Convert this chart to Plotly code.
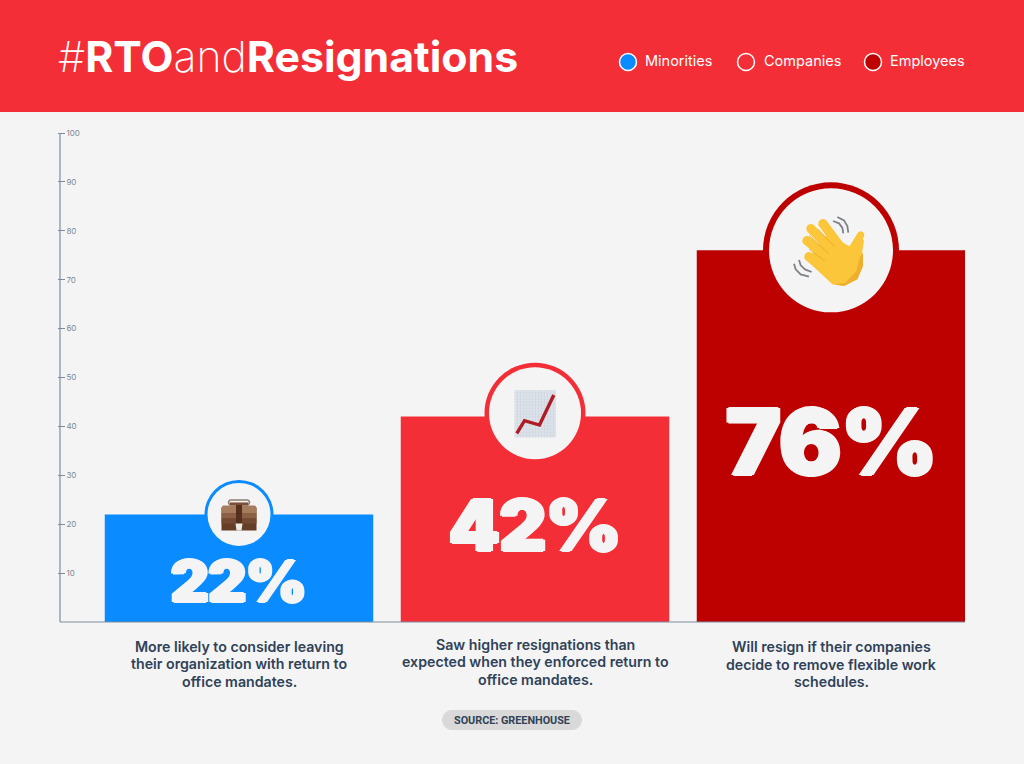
import math
import plotly.graph_objects as go

# data
categories = ["Minorities", "Companies", "Employees"]
values = [22, 42, 76]
captions = [
    ["More likely to consider leaving", "their organization with return to", "office mandates."],
    ["Saw higher resignations than", "expected when they enforced return to", "office mandates."],
    ["Will resign if their companies", "decide to remove flexible work", "schedules."],
]
y_ticks = [10, 20, 30, 40, 50, 60, 70, 80, 90, 100]

W, H = 1024, 764
BG = "#f4f4f5"
RED = "#f32e36"
BLUE = "#0a8bff"
DARK = "#bd0000"
INK = "#2f4257"
AXIS = "#7c8ca0"
colors = [BLUE, RED, DARK]

FONT = "Inter"


def fx(px):
    return px / W


def fy(px):
    return 1 - px / H


def poly(points, ox=0, oy=0, s=1.0):
    # y goes up in pixel sized shapes, the points here are written in screen order
    pts = [((x - ox) * s, -(y - oy) * s) for x, y in points]
    return "M" + " L".join(f"{x:.2f},{y:.2f}" for x, y in pts) + " Z"


def open_line(points, ox=0, oy=0, s=1.0):
    pts = [((x - ox) * s, -(y - oy) * s) for x, y in points]
    return "M" + " L".join(f"{x:.2f},{y:.2f}" for x, y in pts)


def capsule(x0, y0, x1, y1, r):
    # rounded finger / handle shape
    a = math.atan2(y1 - y0, x1 - x0)
    pts = []
    for k in range(13):
        t = a + math.pi / 2 + math.pi * k / 12
        pts.append((x0 + r * math.cos(t), y0 + r * math.sin(t)))
    for k in range(13):
        t = a - math.pi / 2 + math.pi * k / 12
        pts.append((x1 + r * math.cos(t), y1 + r * math.sin(t)))
    return pts


def icon(path, i, v, fill=None, line=None, width=0, dy=0):
    return dict(
        type="path", path=path, xref="x", yref="y", xsizemode="pixel", ysizemode="pixel",
        xanchor=i, yanchor=v + dy, fillcolor=fill or "rgba(0,0,0,0)",
        line=dict(color=line or "rgba(0,0,0,0)", width=width), layer="above",
    )


def rect_path(x0, y0, x1, y1):
    return poly([(x0, y0), (x1, y0), (x1, y1), (x0, y1)])


def badge(i, v, outer, inner, dy=0):
    shapes = []
    for r, col in ((outer, colors[i]), (inner, BG)):
        shapes.append(dict(
            type="circle", xref="x", yref="y", xsizemode="pixel", ysizemode="pixel",
            xanchor=i, yanchor=v + dy, x0=-r, x1=r, y0=-r, y1=r,
            fillcolor=col, line=dict(width=0), layer="above",
        ))
    return shapes


shapes = []

# header band
shapes.append(dict(type="rect", xref="paper", yref="paper", x0=0, x1=1, y0=fy(112), y1=1,
                   fillcolor=RED, line=dict(width=0), layer="below"))

# axis lines
shapes.append(dict(type="line", xref="paper", yref="paper", x0=fx(60), x1=fx(60), y0=fy(133), y1=fy(622),
                   line=dict(color=AXIS, width=1.2), layer="above"))
shapes.append(dict(type="line", xref="paper", yref="paper", x0=fx(60), x1=fx(965), y0=fy(622), y1=fy(622),
                   line=dict(color=AXIS, width=1.2), layer="above"))

# badges
shapes += badge(0, values[0], 34.5, 31.5)
shapes += badge(1, values[1], 50.5, 46, dy=0.7)
shapes += badge(2, values[2], 68, 62)

# briefcase, offsets from the badge centre
shapes.append(icon(poly(capsule(-8, -12, 8, -12, 3.2)), 0, values[0], fill="#8f7c6d"))
shapes.append(icon(poly(capsule(-8, -12, 8, -12, 1.6)), 0, values[0], fill=BG))
shapes.append(icon(rect_path(-9, -12, 9, -9), 0, values[0], fill="#7b5238"))
shapes.append(icon(poly(capsule(-15, -6.5, 15, -6.5, 2.5)), 0, values[0], fill="#a67c5f"))
shapes.append(icon(rect_path(-17.5, -6.5, 17.5, 16), 0, values[0], fill="#653e27"))
shapes.append(icon(rect_path(-17.5, -6.5, 17.5, -1), 0, values[0], fill="#a67c5f"))
shapes.append(icon(rect_path(-17.5, -1, 17.5, 4), 0, values[0], fill="#8c6044"))
shapes.append(icon(rect_path(-17.5, 4, 17.5, 9), 0, values[0], fill="#744b32"))
shapes.append(icon(rect_path(-3, -9.5, 3, 9), 0, values[0], fill="#55301c"))
shapes.append(icon(poly([(-3.5, 9), (3.5, 9), (2.5, 16), (-2.5, 16)]), 0, values[0], fill="#ecebe4"))

# chart with upwards trend
cv = values[1]
shapes.append(icon(rect_path(-20.5, -26.5, 21, 21), 1, cv, fill="#dfe4ea"))
grid = ""
for k in range(1, 14):
    gx = -20.5 + k * 3
    grid += f"M{gx},26.5 L{gx},-21 "
for k in range(1, 16):
    gy = -26.5 + k * 3
    grid += f"M-20.5,{-gy} L21,{-gy} "
shapes.append(icon(grid, 1, cv, line="#cdd5df", width=0.6))
trend = [(-18.2, 16.7), (-10.5, 4.1), (4.5, 8.4), (18.8, -21.6)]
shapes.append(icon(open_line(trend), 1, cv, line="#b01c24", width=3.4))

# waving hand, traced in 3x crop coordinates around the badge centre
HX, HY, HS = 246, 243, 1 / 3
YELLOW = "#fcc63a"
palm = [(225, 200), (260, 205), (290, 225), (305, 232), (315, 215), (335, 200), (345, 215),
        (340, 245), (342, 290), (325, 330), (285, 350), (250, 345), (215, 312), (175, 275)]
shade = [(342, 250), (342, 290), (325, 330), (285, 350), (255, 345), (290, 340), (322, 305), (332, 265)]
fingers = [(222, 163, 268, 225), (186, 178, 250, 245), (174, 214, 232, 262), (180, 262, 225, 298)]
for f in fingers:
    shapes.append(icon(poly(capsule(*f, 14), HX, HY, HS), 2, values[2], fill=YELLOW))
shapes.append(icon(poly(capsule(335, 197, 312, 235, 11), HX, HY, HS), 2, values[2], fill=YELLOW))
shapes.append(icon(poly(palm, HX, HY, HS), 2, values[2], fill=YELLOW))
shapes.append(icon(poly(shade, HX, HY, HS), 2, values[2], fill="#eeae2e"))
for a, b in (((208, 180), (256, 232)), ((180, 198), (238, 252)), ((180, 240), (228, 275))):
    shapes.append(icon(open_line([a, b], HX, HY, HS), 2, values[2], line="#e8a62a", width=0.8))
waves = [
    [(252, 155), (270, 162), (280, 175), (283, 192)],
    [(265, 143), (285, 153), (295, 170), (298, 190)],
    [(135, 283), (140, 300), (155, 315), (180, 322)],
    [(150, 272), (155, 288), (168, 300), (188, 308)],
]
for w in waves:
    shapes.append(icon(open_line(w, HX, HY, HS), 2, values[2], line="#7d8288", width=1.8))

# legend dots
for cx, col in zip((628, 746, 873), (BLUE, RED, DARK)):
    shapes.append(dict(type="circle", xref="paper", yref="paper", xsizemode="pixel", ysizemode="pixel",
                       xanchor=fx(cx), yanchor=fy(62), x0=-8.5, x1=8.5, y0=-8.5, y1=8.5,
                       fillcolor=col, line=dict(color="white", width=1.5), layer="above"))

# source pill
pill = []
for k in range(13):
    t = math.pi / 2 + math.pi * k / 12
    pill.append((-60 + 10 * math.cos(t), 10 * math.sin(t)))
for k in range(13):
    t = -math.pi / 2 + math.pi * k / 12
    pill.append((60 + 10 * math.cos(t), 10 * math.sin(t)))
shapes.append(dict(type="path", path=poly(pill), xref="paper", yref="paper", xsizemode="pixel", ysizemode="pixel",
                   xanchor=fx(512), yanchor=fy(720), fillcolor="#d9d9d9", line=dict(width=0), layer="above"))

annotations = []


def text(s, x, y, size, color, anchor="center", weight=None, family=FONT, xref="paper", shadow=None):
    annotations.append(dict(
        text=s, x=x, y=fy(y), xref=xref, yref="paper", xanchor=anchor, yanchor="middle",
        showarrow=False, align="center",
        font=dict(family=family, size=size, color=color, weight=weight, shadow=shadow),
    ))


text("#<b>RTO</b>and<b>Resignations</b>", fx(56), 56.5, 42.8, "white", anchor="left", weight=200)
for name, lx in zip(categories, (643, 762, 888)):
    text(name, fx(lx), 61, 14.5, "white", anchor="left")

# big percentages
fat = "2px 0 0 {c}, -2px 0 0 {c}, 0 1px 0 {c}, 0 -1px 0 {c}".format(c=BG)
for i, (v, py, size) in enumerate(zip(values, (581, 524, 441), (58, 72, 92))):
    text(f"{v}%", i, py, size, BG, weight=900, xref="x", shadow=fat)

# caption lines sit closer than plotly's own line height, so one annotation per line
for i, (lines, py) in enumerate(zip(captions, (646, 644, 646.5))):
    for k, line in enumerate(lines):
        text(line, i, py + k * 17.5, 14.2, INK, weight=600, xref="x")

text("SOURCE: GREENHOUSE", fx(512), 720, 10.8, INK, weight=700, family="Roboto")

fig = go.Figure(go.Bar(x=[0, 1, 2], y=values, width=268.5 / 296, marker=dict(color=colors, line=dict(width=0)),
                       hoverinfo="skip"))

fig.update_layout(
    width=W, height=H,
    margin=dict(l=0, r=0, t=0, b=0),
    paper_bgcolor=BG, plot_bgcolor=BG,
    font=dict(family=FONT),
    showlegend=False,
    shapes=shapes,
    annotations=annotations,
)
fig.update_xaxes(domain=[fx(58), fx(965)], range=[-(239 - 58) / 296, 2 + (965 - 831) / 296],
                 showgrid=False, zeroline=False, showline=False, showticklabels=False, ticks="")
# range runs a bit past 100 so the top tick label is kept
fig.update_yaxes(domain=[fy(622), fy(622 - 102 * 4.89)], range=[0, 102], tickmode="array", tickvals=y_ticks,
                 showgrid=False, zeroline=False, showline=False,
                 ticks="inside", ticklen=7, tickwidth=1, tickcolor=AXIS,
                 ticklabelposition="inside", tickfont=dict(family=FONT, size=8, color="#7c8894"))

fig.write_html("out.html", config=dict(displayModeBar=False),
               post_script="document.body.style.margin='0';")
